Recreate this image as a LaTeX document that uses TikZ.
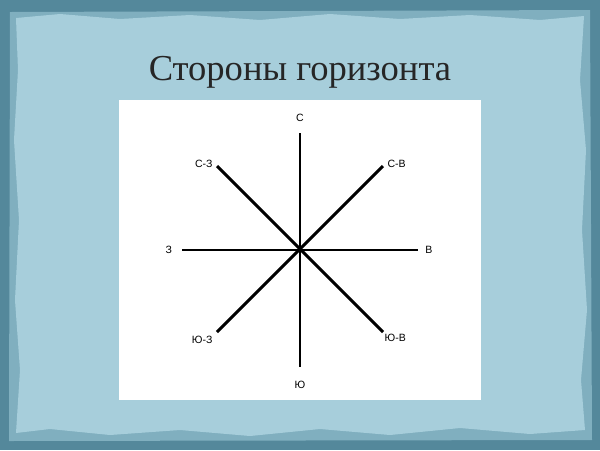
\documentclass[tikz,border=0pt]{standalone}
\usepackage{fontspec}
\setmainfont{Liberation Serif}
\newfontfamily\sidefont{Liberation Sans}
\usetikzlibrary{positioning}
\definecolor{frameblue}{RGB}{84,136,155}
\definecolor{fringeblue}{RGB}{128,175,191}
\definecolor{paperblue}{RGB}{167,206,219}
\tikzstyle{heading} = [font=\fontsize{26}{30}\selectfont,
                       text=black!85]
\tikzstyle{side} = [font=\sidefont\fontsize{7.5}{9}\selectfont,
                    inner sep=1pt]
\tikzstyle{arm} = [line width=2.1pt,
                   black]

\begin{document}
\begin{tikzpicture}[x=0.025cm, y=-0.025cm]

    % background
    \useasboundingbox (0,0) rectangle (600,450);
    \fill [frameblue] (0,0) rectangle (600,450);
    \fill [fringeblue] (10,12) -- (590,10) -- (592,440) -- (9,441) -- cycle;
    \fill [paperblue] (16,18) -- (60,14) -- (120,19) -- (190,15) -- (260,20) -- (330,14)
        -- (400,19) -- (470,15) -- (540,20) -- (584,16) -- (580,80) -- (586,150)
        -- (582,230) -- (587,310) -- (581,380) -- (585,430) -- (530,434) -- (460,428)
        -- (390,435) -- (320,429) -- (250,436) -- (180,430) -- (110,435) -- (50,429)
        -- (16,433) -- (20,370) -- (15,300) -- (19,220) -- (14,140) -- (18,70) -- cycle;
    \node (title) [heading] at (300,72) {Стороны горизонта};
    \fill [white] (119,100) rectangle (481,400);

    % ends of the arms
    \coordinate (o)  at (300,250);
    \coordinate (n)  at (300,133);
    \coordinate (s)  at (300,367);
    \coordinate (w)  at (182,250);
    \coordinate (e)  at (418,250);
    \coordinate (nw) at (217,166);
    \coordinate (ne) at (383,166);
    \coordinate (sw) at (217,332);
    \coordinate (se) at (383,332);

    \node (ln)  [side, above=7pt of n]                 {С};
    \node (ls)  [side, below=9pt of s]                 {Ю};
    \node (lw)  [side, left=6pt of w]                  {З};
    \node (le)  [side, right=4pt of e]                 {В};
    \node (lnw) [side, above left=-2pt and 2pt of nw]  {С-З};
    \node (lne) [side, above right=-2pt and 2pt of ne] {С-В};
    \node (lsw) [side, below left=2pt and 2pt of sw]   {Ю-З};
    \node (lse) [side, right=0pt of se, yshift=-4pt]   {Ю-В};

    \draw [arm] (n)  -- (s);
    \draw [arm] (w)  -- (e);
    \draw [arm] (nw) -- (se);
    \draw [arm] (ne) -- (sw);

\end{tikzpicture}
\end{document}
